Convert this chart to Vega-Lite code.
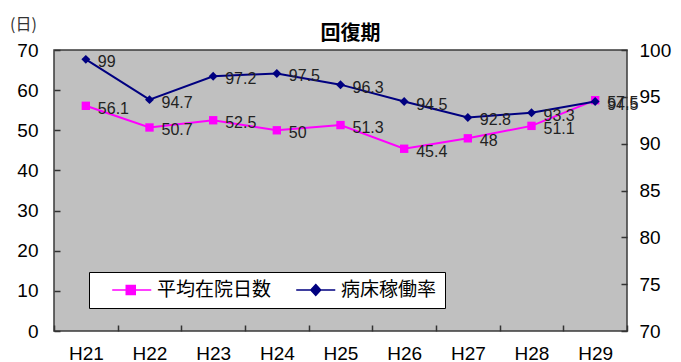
{
  "$schema": "https://vega.github.io/schema/vega-lite/v6.json",
  "width": 573,
  "height": 281,
  "autosize": {"type": "none"},
  "padding": {"left": 54, "top": 50, "right": 54, "bottom": 31},
  "background": "white",
  "config": {
    "view": {"fill": "#c0c0c0", "stroke": "#3a3a3a", "strokeWidth": 1.5},
    "font": "Liberation Sans"
  },
  "title": {"text": "回復期", "font": "Noto Sans CJK JP", "fontSize": 20, "fontWeight": "bold", "offset": 6, "dx": 10, "dy": 34, "color": "black"},
  "data": {"values": [
    {"year": "H21", "series": "平均在院日数", "value": 56.1},
    {"year": "H22", "series": "平均在院日数", "value": 50.7},
    {"year": "H23", "series": "平均在院日数", "value": 52.5},
    {"year": "H24", "series": "平均在院日数", "value": 50},
    {"year": "H25", "series": "平均在院日数", "value": 51.3},
    {"year": "H26", "series": "平均在院日数", "value": 45.4},
    {"year": "H27", "series": "平均在院日数", "value": 48},
    {"year": "H28", "series": "平均在院日数", "value": 51.1},
    {"year": "H29", "series": "平均在院日数", "value": 57.5},
    {"year": "H21", "series": "病床稼働率", "value": 99},
    {"year": "H22", "series": "病床稼働率", "value": 94.7},
    {"year": "H23", "series": "病床稼働率", "value": 97.2},
    {"year": "H24", "series": "病床稼働率", "value": 97.5},
    {"year": "H25", "series": "病床稼働率", "value": 96.3},
    {"year": "H26", "series": "病床稼働率", "value": 94.5},
    {"year": "H27", "series": "病床稼働率", "value": 92.8},
    {"year": "H28", "series": "病床稼働率", "value": 93.3},
    {"year": "H29", "series": "病床稼働率", "value": 94.5}
  ]},
  "encoding": {
    "x": {"field": "year", "type": "ordinal", "scale": {"paddingInner": 0, "paddingOuter": 0},
      "axis": {"title": null, "labelAngle": 0, "labelFontSize": 19, "labelColor": "black", "labelPadding": 19, "tickSize": -6, "tickBand": "extent", "domain": false, "tickColor": "#333", "tickWidth": 1.5}}
  },
  "layer": [
    {
      "transform": [{"filter": "datum.series == '平均在院日数'"}],
      "encoding": {
        "y": {"field": "value", "type": "quantitative", "scale": {"domain": [0, 70], "nice": false, "zero": false},
          "axis": {"orient": "left", "values": [0, 10, 20, 30, 40, 50, 60, 70], "grid": false, "domain": false, "tickSize": -6, "tickColor": "#333", "tickWidth": 1.5, "labelFontSize": 19, "labelColor": "black", "labelPadding": 22,
            "title": "(日)", "titleAngle": 0, "titleFont": "Noto Sans CJK JP", "titleFontSize": 16, "titleFontWeight": "normal", "titleColor": "#333", "titleX": -31, "titleY": -26, "titleAlign": "center", "titleBaseline": "middle"}}
      },
      "layer": [
        {"mark": {"type": "line", "strokeWidth": 2, "color": "#ff00ff"}},
        {"mark": {"type": "point", "shape": "square", "filled": true, "size": 70, "opacity": 1, "color": "#ff00ff"}},
        {"mark": {"type": "text", "align": "left", "baseline": "middle", "dx": 12, "dy": 3, "fontSize": 16, "color": "#222"},
          "encoding": {"text": {"field": "value", "type": "nominal"}}}
      ]
    },
    {
      "transform": [{"filter": "datum.series == '病床稼働率'"}],
      "encoding": {
        "y": {"field": "value", "type": "quantitative", "scale": {"domain": [70, 100], "nice": false, "zero": false},
          "axis": {"orient": "right", "values": [70, 75, 80, 85, 90, 95, 100], "grid": false, "domain": false, "tickSize": -6, "tickColor": "#333", "tickWidth": 1.5, "labelFontSize": 19, "labelColor": "black", "labelPadding": 18, "title": null}}
      },
      "layer": [
        {"mark": {"type": "line", "strokeWidth": 2, "color": "#000080"}},
        {"mark": {"type": "point", "shape": "diamond", "filled": true, "size": 80, "opacity": 1, "color": "#000080"}},
        {"mark": {"type": "text", "align": "left", "baseline": "middle", "dx": 12, "dy": 3, "fontSize": 16, "color": "#222"},
          "encoding": {"text": {"field": "value", "type": "nominal"}}}
      ]
    },
    {
      "transform": [{"filter": "false"}],
      "mark": {"type": "point", "strokeWidth": 1.5, "opacity": 1},
      "encoding": {
        "y": {"field": "value", "type": "quantitative", "scale": {"domain": [0, 100]}, "axis": null},
        "fill": {"field": "series", "type": "nominal",
          "scale": {"domain": ["平均在院日数", "病床稼働率"], "range": ["#ff00ff", "#000080"]},
          "legend": {"orient": "none", "legendX": 35, "legendY": 222, "direction": "horizontal", "title": null,
            "fillColor": "white", "strokeColor": "black", "padding": 8, "symbolSize": 324, "labelOffset": 40, "columnPadding": 9,
            "labelFont": "Noto Sans CJK JP", "labelFontSize": 19, "labelColor": "black", "symbolStrokeWidth": 1.5, "symbolOpacity": 1,
            "labelExpr": "datum.label == '病床稼働率' ? datum.label + '　' : datum.label"}},
        "stroke": {"field": "series", "type": "nominal",
          "scale": {"domain": ["平均在院日数", "病床稼働率"], "range": ["#ff00ff", "#000080"]}},
        "shape": {"field": "series", "type": "nominal",
          "scale": {"domain": ["平均在院日数", "病床稼働率"], "range": ["M0.58,0H4.92M2.14,-0.5H3.14V0.5H2.14Z", "M0.58,0H4.92M2.75,-0.6L3.3,0L2.75,0.6L2.2,0Z"]}}
      }
    }
  ],
  "resolve": {"scale": {"y": "independent"}}
}
